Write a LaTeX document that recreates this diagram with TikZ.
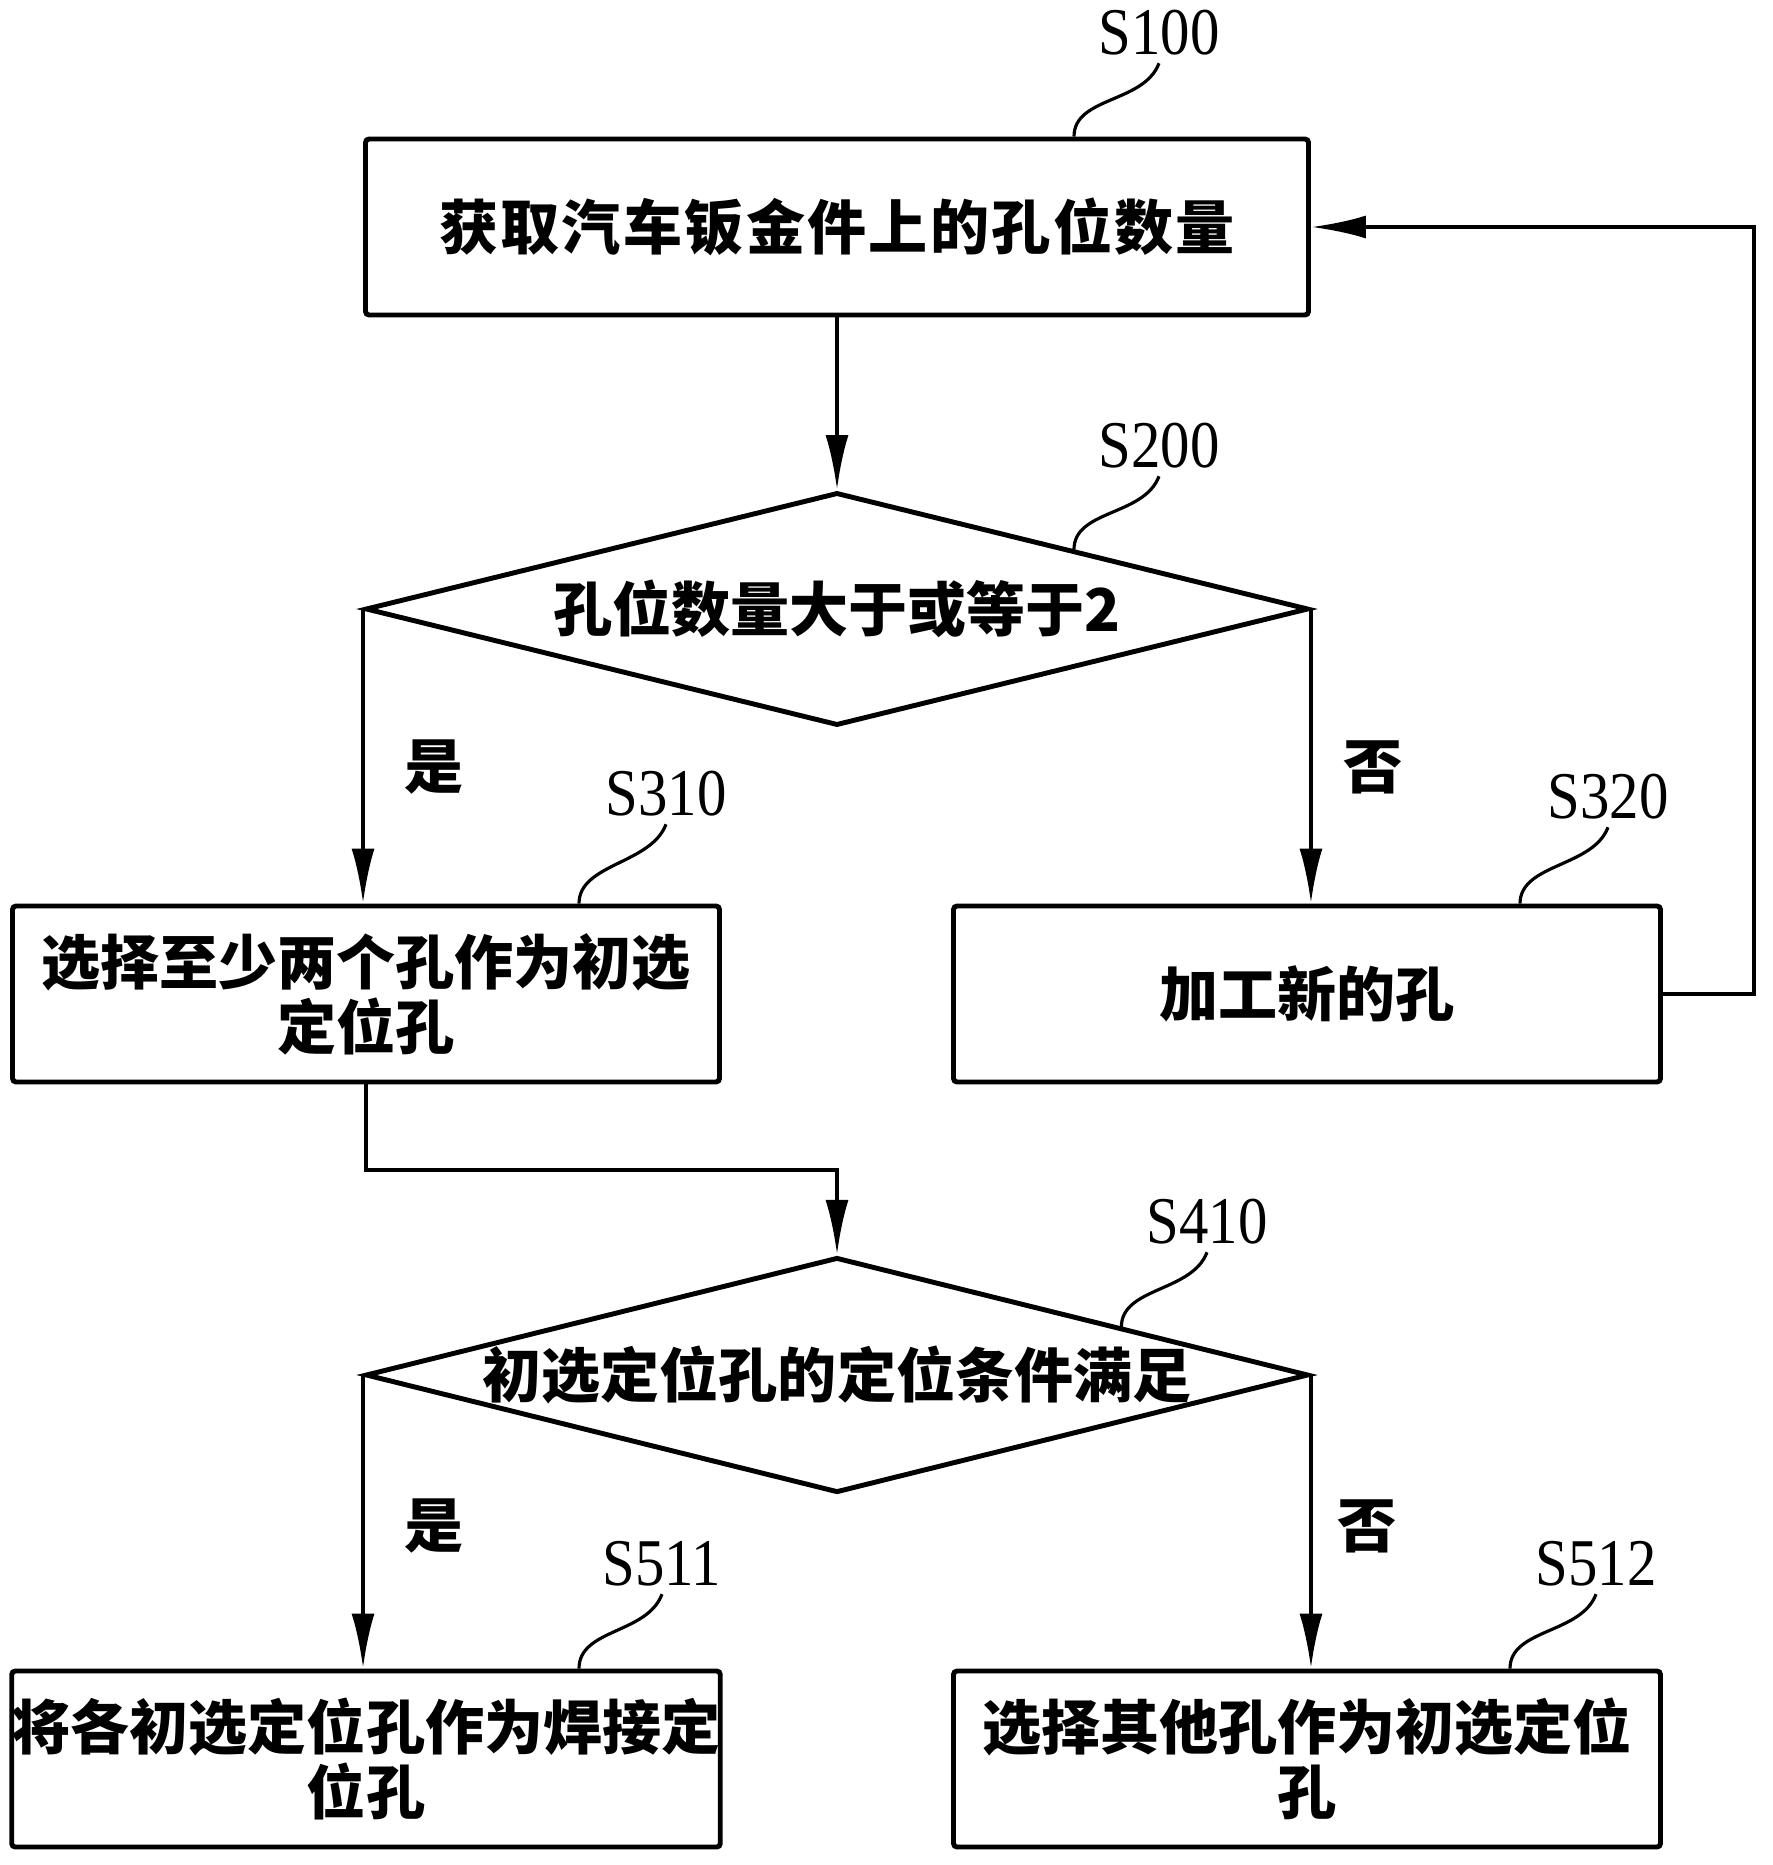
\documentclass[tikz,border=0pt]{standalone}
\usepackage{fontspec}
\setmainfont{Liberation Serif}
\newfontfamily\cjk{Noto Sans CJK SC}
\newfontfamily\tagfont{Liberation Serif}[FakeStretch=0.88]
\newcommand{\cjkfont}{\cjk\bfseries\fontsize{16.8}{18.5}\selectfont}
\usetikzlibrary{arrows.meta}
\usetikzlibrary{shapes.geometric}
\usetikzlibrary{calc}
\tikzset{
stepbox/.style={draw, line width=1.4pt, rectangle, rounded corners=1pt,
    minimum width=7.07cm, minimum height=1.76cm, inner sep=0pt,
    align=center, font=\cjkfont},
decision/.style={draw, line width=1.4pt, diamond, aspect=4,
    minimum width=9.43cm, minimum height=2.33cm, inner sep=0pt, font=\cjkfont},
steplabel/.style={font=\tagfont\fontsize{19}{20}\selectfont, inner sep=2pt},
choice/.style={font=\cjkfont},
lead/.style={line width=0.9pt},
flow/.style={line width=1.2pt, -{Latex[length=5.5mm,width=2.3mm]}},
}

\begin{document}
\begin{tikzpicture}
    \useasboundingbox (0,0) rectangle (17.73,-18.65);
    % steps
    \node[stepbox, minimum width=9.43cm] (s100) at (8.37,-2.27) {\addfontfeature{LetterSpace=4}获取汽车钣金件上的孔位数量};
    \node[decision] (d200) at (8.37,-6.09) {孔位数量大于或等于2};
    \node[stepbox] (s310) at (3.66,-9.94) {选择至少两个孔作为初选\\定位孔};
    \node[stepbox] (s320) at (13.07,-9.94) {加工新的孔};
    \node[decision] (d410) at (8.37,-13.75) {初选定位孔的定位条件满足};
    \node[stepbox] (s511) at (3.66,-17.59) {将各初选定位孔作为焊接定\\位孔};
    \node[stepbox] (s512) at (13.07,-17.59) {选择其他孔作为初选定位\\孔};
    \coordinate (back) at (17.54,-9.94);

    % step numbers
    \node[steplabel] (l100) at (11.59,-0.33) {S100};
    \node[steplabel] (l200) at (11.59,-4.46) {S200};
    \node[steplabel] (l310) at (6.66,-7.94) {S310};
    \node[steplabel] (l320) at (16.08,-7.97) {S320};
    \node[steplabel] (l410) at (12.07,-12.22) {S410};
    \node[steplabel] (l511) at (6.62,-15.64) {S511};
    \node[steplabel] (l512) at (15.96,-15.64) {S512};

    % yes / no
    \node[choice] (y200) at (4.34,-7.67) {是};
    \node[choice] (n200) at (13.73,-7.67) {否};
    \node[choice] (y410) at (4.34,-15.26) {是};
    \node[choice] (n410) at (13.67,-15.26) {否};

    % connectors
    \draw[flow] (s100.south) -- (d200.north);
    \draw[flow] (d200.west) -- (d200.west |- s310.north);
    \draw[flow] (d200.east) -- (d200.east |- s320.north);
    \draw[flow] (s320.east) -- (back) |- (s100.east);
    \draw[flow] (s310.south) |- ($(s310.south)!.5!(d410.north)$) -| (d410.north);
    \draw[flow] (d410.west) -- (d410.west |- s511.north);
    \draw[flow] (d410.east) -- (d410.east |- s512.north);

    % leaders
    \draw[lead] (l100.south) .. controls +(-0.15,-0.4) and +(0,0.4) .. ([xshift=2.37cm]s100.north);
    \draw[lead] (l200.south) .. controls +(-0.15,-0.4) and +(0,0.4) .. (d200.north east);
    \draw[lead] (l310.south) .. controls +(-0.15,-0.4) and +(0,0.4) .. ([xshift=2.13cm]s310.north);
    \draw[lead] (l320.south) .. controls +(-0.15,-0.4) and +(0,0.4) .. ([xshift=2.13cm]s320.north);
    \draw[lead] (l410.south) .. controls +(-0.15,-0.4) and +(0,0.4) .. ($(d410.north)!.6!(d410.east)$);
    \draw[lead] (l511.south) .. controls +(-0.15,-0.4) and +(0,0.4) .. ([xshift=2.13cm]s511.north);
    \draw[lead] (l512.south) .. controls +(-0.15,-0.4) and +(0,0.4) .. ([xshift=2.03cm]s512.north);
\end{tikzpicture}
\end{document}
